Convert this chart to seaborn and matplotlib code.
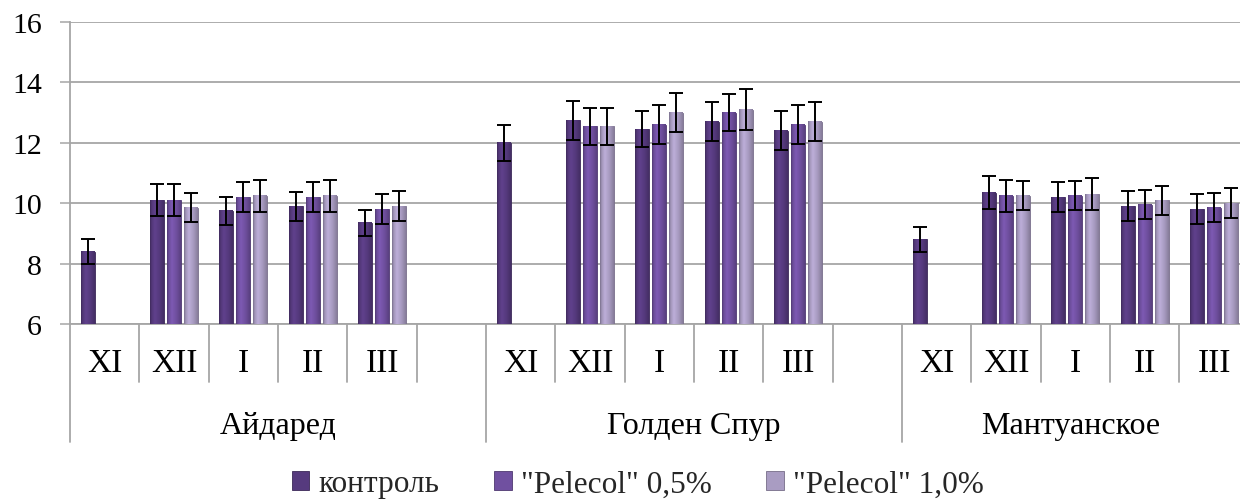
import numpy as np
import pandas as pd
import matplotlib
matplotlib.use("Agg")
import matplotlib.pyplot as plt
import matplotlib.colors as mcolors
from matplotlib import font_manager as fm
from matplotlib.patches import Patch
import seaborn as sns

# ---- data ----
cultivars = ["Айдаред", "Голден Спур", "Мантуанское"]
months = ["XI", "XII", "I", "II", "III"]
treatments = ["контроль", "\"Pelecol\" 0,5%", "\"Pelecol\" 1,0%"]

nan = np.nan
control = [8.4, 10.1, 9.75, 9.9, 9.35,
           12.0, 12.75, 12.45, 12.7, 12.4,
           8.8, 10.35, 10.2, 9.9, 9.8]
pelecol_05 = [nan, 10.1, 10.2, 10.2, 9.8,
              nan, 12.55, 12.6, 13.0, 12.6,
              nan, 10.25, 10.25, 9.95, 9.85]
pelecol_10 = [nan, 9.85, 10.25, 10.25, 9.9,
              nan, 12.55, 13.0, 13.1, 12.7,
              nan, 10.25, 10.3, 10.1, 10.0]

control_err = [0.42, 0.52, 0.47, 0.48, 0.43,
               0.60, 0.65, 0.60, 0.65, 0.65,
               0.42, 0.54, 0.49, 0.49, 0.49]
pelecol_05_err = [nan, 0.52, 0.49, 0.49, 0.49,
                  nan, 0.61, 0.65, 0.60, 0.65,
                  nan, 0.53, 0.48, 0.48, 0.48]
pelecol_10_err = [nan, 0.48, 0.53, 0.53, 0.49,
                  nan, 0.61, 0.64, 0.67, 0.65,
                  nan, 0.48, 0.53, 0.48, 0.49]

colors = ["#563a7e", "#7050a0", "#a99cc2"]

# ---- long table; each cultivar gets one empty slot after its months ----
slots = []
for c in cultivars:
    slots += [f"{c}|{m}" for m in months] + [f"{c}|"]

series = [control, pelecol_05, pelecol_10]
errors = [control_err, pelecol_05_err, pelecol_10_err]
rows = []
err_lookup = {}
for t, vals, errs in zip(treatments, series, errors):
    for ci, c in enumerate(cultivars):
        for mi, m in enumerate(months):
            v = vals[ci * 5 + mi]
            if np.isnan(v):
                continue
            key = f"{c}|{m}"
            rows.append({"slot": key, "treatment": t, "value": v})
            err_lookup[(t, slots.index(key))] = errs[ci * 5 + mi]
df = pd.DataFrame(rows)

# ---- fonts: Times-like serif everywhere ----
sns.set_style("white")
serif_path = fm.findfont(fm.FontProperties(family="Liberation Serif"))
plt.rcParams["font.family"] = "serif"
plt.rcParams["font.serif"] = ["Liberation Serif", "DejaVu Serif"]


def serif(size):
    return fm.FontProperties(fname=serif_path, size=size)


# ---- figure ----
W, H = 1240, 502
fig = plt.figure(figsize=(W / 100, H / 100), dpi=100)
ax_left, ax_top, ax_bottom = 70, 23, 325
ax = fig.add_axes([ax_left / W, (H - ax_bottom) / H,
                   (W - ax_left) / W, (ax_bottom - ax_top) / H])

sns.barplot(data=df, x="slot", y="value", hue="treatment",
            order=slots, hue_order=treatments, palette=colors,
            width=0.735, gap=0.18, errorbar=None, legend=False,
            saturation=1, ax=ax, zorder=3)

slot_px = 416 / 6
x_max = -0.5 + (W - ax_left) / slot_px
y_min, y_max = 6, 16

# cylinder-like horizontal shading on every bar
profile_t = np.array([0.0, 0.12, 0.35, 0.7, 1.0])
profile_f = np.array([0.72, 0.95, 1.12, 0.98, 0.80])
tt = np.linspace(0, 1, 64)
ff = np.interp(tt, profile_t, profile_f)
for cont, base in zip(ax.containers, colors):
    rgb = np.array(mcolors.to_rgb(base))
    grad = np.clip(rgb[None, :] * ff[:, None], 0, 1)[None, :, :]
    for bar in cont:
        x0 = bar.get_x()
        w = bar.get_width()
        h = bar.get_height()
        bar.set_edgecolor(mcolors.to_rgba(rgb * 0.7))
        bar.set_linewidth(0.6)
        ax.imshow(grad, extent=[x0, x0 + w, y_min, h], aspect="auto",
                  zorder=3.5, interpolation="bilinear")

ax.set_xlim(-0.5, x_max)
ax.set_ylim(y_min, y_max)

# error bars at the drawn bar centres
for cont, t in zip(ax.containers, treatments):
    xs, ys, es = [], [], []
    for bar in cont:
        cx = bar.get_x() + bar.get_width() / 2
        idx = int(round(cx))
        xs.append(cx)
        ys.append(bar.get_height())
        es.append(err_lookup[(t, idx)])
    ax.errorbar(xs, ys, yerr=es, fmt="none", ecolor="black",
                elinewidth=1.4, capsize=4.7, capthick=1.4, zorder=5)

# axes styling
ax.set_yticks(np.arange(6, 17, 2))
ax.yaxis.grid(True, color="#a6a6a6", linewidth=1.3, zorder=0)
ax.set_axisbelow(True)
ax.tick_params(axis="y", which="major", length=7.2, width=1.1,
               color="#a6a6a6", pad=13, labelcolor="black", left=True)
ax.set_yticklabels([f"{v:d}" for v in np.arange(6, 17, 2)], fontproperties=serif(21.5))
ax.set_xticks([])
ax.set_xlabel("")
ax.set_ylabel("")
for side in ["top", "right"]:
    ax.spines[side].set_visible(False)
for side in ["left", "bottom"]:
    ax.spines[side].set_color("#a6a6a6")
    ax.spines[side].set_linewidth(1.3)

# multi-level category axis
ax_h = ax_bottom - ax_top
trans = ax.get_xaxis_transform()
short_len = 58 / ax_h
long_len = 118 / ax_h
for k in range(len(slots) + 1):
    xb = k - 0.5
    if xb > x_max:
        break
    length = long_len if k % 6 == 0 else short_len
    ax.plot([xb, xb], [0, -length], transform=trans, color="#a6a6a6",
            linewidth=1.3, clip_on=False, zorder=1)

month_y = -(364 - ax_bottom) / ax_h
group_y = -(427 - ax_bottom) / ax_h
for i, s in enumerate(slots):
    lab = s.split("|")[1]
    if lab and i < x_max:
        ax.text(i, month_y, lab, transform=trans, ha="center", va="center",
                fontproperties=serif(24), color="black")
for g, c in enumerate(cultivars):
    start = g * 6 - 0.5
    end = min(start + 6, x_max)
    ax.text((start + end) / 2, group_y, c, transform=trans, ha="center",
            va="center", fontproperties=serif(23), color="black")

# legend
handles = [Patch(facecolor=col, edgecolor=mcolors.to_rgba(np.array(mcolors.to_rgb(col)) * 0.7),
                 linewidth=0.6) for col in colors]
fig.legend(handles, treatments, loc="center", bbox_to_anchor=(638 / W, (H - 485) / H),
           ncol=3, frameon=False, prop=serif(22.5), handlelength=0.55, handleheight=0.55,
           handletextpad=0.3, columnspacing=1.75, borderaxespad=0)

fig.savefig("out.png", dpi=100)
